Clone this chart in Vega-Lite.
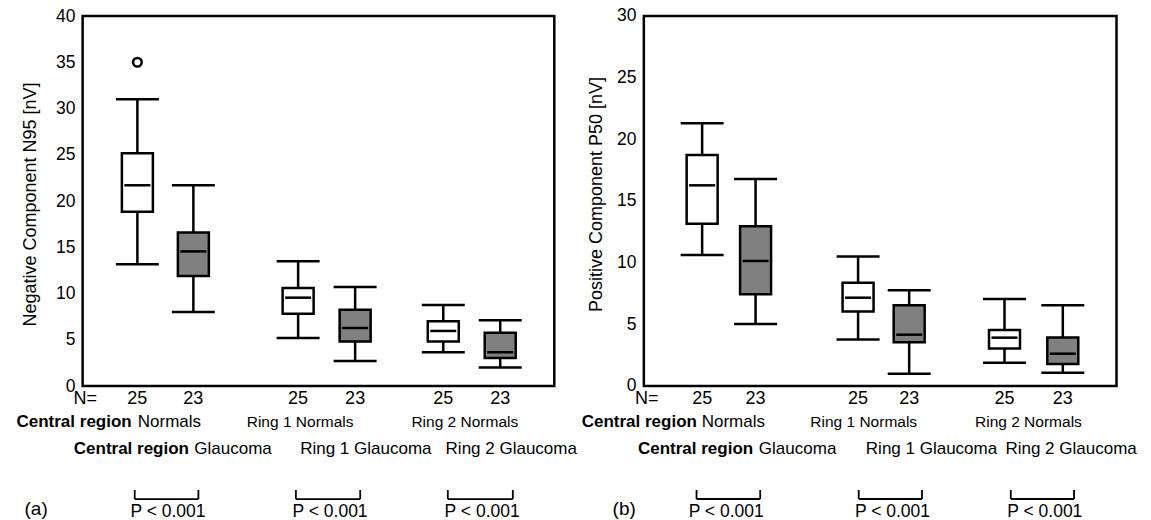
{
  "$schema": "https://vega.github.io/schema/vega-lite/v6.json",
  "padding": 0,
  "bounds": "flush",
  "spacing": 0,
  "config": {
    "view": {"stroke": null},
    "font": "Liberation Sans",
    "text": {"color": "black"}
  },
  "datasets": {
    "frameA": [{"x": 1.374, "x2": 9.722, "y": 0, "y2": 40}],
    "frameB": [{"x": 1.128, "x2": 9.479, "y": 0, "y2": 30}],
    "boxA": [
      {"region": "Central region", "group": "Normals", "pos": 2.343, "lo": 13.15, "q1": 18.85, "med": 21.7, "q3": 25.15, "hi": 31.0, "n": 25},
      {"region": "Central region", "group": "Glaucoma", "pos": 3.334, "lo": 8.0, "q1": 11.9, "med": 14.55, "q3": 16.6, "hi": 21.7, "n": 23},
      {"region": "Ring 1", "group": "Normals", "pos": 5.188, "lo": 5.2, "q1": 7.8, "med": 9.55, "q3": 10.6, "hi": 13.5, "n": 25},
      {"region": "Ring 1", "group": "Glaucoma", "pos": 6.197, "lo": 2.7, "q1": 4.8, "med": 6.27, "q3": 8.25, "hi": 10.7, "n": 23},
      {"region": "Ring 2", "group": "Normals", "pos": 7.757, "lo": 3.64, "q1": 4.8, "med": 5.95, "q3": 7.0, "hi": 8.75, "n": 25},
      {"region": "Ring 2", "group": "Glaucoma", "pos": 8.765, "lo": 2.0, "q1": 3.03, "med": 3.64, "q3": 5.76, "hi": 7.1, "n": 23}
    ],
    "outA": [{"pos": 2.343, "v": 35}],
    "boxB": [
      {"region": "Central region", "group": "Normals", "pos": 2.158, "lo": 10.62, "q1": 13.16, "med": 16.27, "q3": 18.73, "hi": 21.3, "n": 25},
      {"region": "Central region", "group": "Glaucoma", "pos": 3.102, "lo": 5.03, "q1": 7.43, "med": 10.14, "q3": 12.95, "hi": 16.78, "n": 23},
      {"region": "Ring 1", "group": "Normals", "pos": 4.913, "lo": 3.78, "q1": 6.05, "med": 7.16, "q3": 8.38, "hi": 10.49, "n": 25},
      {"region": "Ring 1", "group": "Glaucoma", "pos": 5.816, "lo": 1.0, "q1": 3.54, "med": 4.16, "q3": 6.54, "hi": 7.76, "n": 23},
      {"region": "Ring 2", "group": "Normals", "pos": 7.5, "lo": 1.89, "q1": 3.05, "med": 3.92, "q3": 4.54, "hi": 7.05, "n": 25},
      {"region": "Ring 2", "group": "Glaucoma", "pos": 8.53, "lo": 1.08, "q1": 1.78, "med": 2.62, "q3": 3.94, "hi": 6.54, "n": 23}
    ],
    "textA": [
      {"role": "bold", "text": "Central region", "x": 0.203, "y": -3.86},
      {"role": "plain", "text": "Normals", "x": 2.35, "y": -3.86},
      {"role": "small", "text": "Ring 1 Normals", "x": 4.278, "y": -3.86},
      {"role": "small", "text": "Ring 2 Normals", "x": 7.193, "y": -3.86},
      {"role": "bold", "text": "Central region", "x": 1.217, "y": -6.81},
      {"role": "plain", "text": "Glaucoma", "x": 3.35, "y": -6.81},
      {"role": "plain", "text": "Ring 1 Glaucoma", "x": 5.224, "y": -6.81},
      {"role": "plain", "text": "Ring 2 Glaucoma", "x": 7.798, "y": -6.81},
      {"role": "n", "text": "N=", "x": 1.421, "y": -1.405},
      {"role": "p", "text": "P < 0.001", "x": 2.885, "y": -13.62},
      {"role": "p", "text": "P < 0.001", "x": 5.753, "y": -13.62},
      {"role": "p", "text": "P < 0.001", "x": 8.445, "y": -13.62},
      {"role": "tag", "text": "(a)", "x": 0.551, "y": -13.3}
    ],
    "textB": [
      {"role": "bold", "text": "Central region", "x": 0.03, "y": -2.895},
      {"role": "plain", "text": "Normals", "x": 2.15, "y": -2.895},
      {"role": "small", "text": "Ring 1 Normals", "x": 4.069, "y": -2.895},
      {"role": "small", "text": "Ring 2 Normals", "x": 6.979, "y": -2.895},
      {"role": "bold", "text": "Central region", "x": 1.024, "y": -5.108},
      {"role": "plain", "text": "Glaucoma", "x": 3.16, "y": -5.108},
      {"role": "plain", "text": "Ring 1 Glaucoma", "x": 5.05, "y": -5.108},
      {"role": "plain", "text": "Ring 2 Glaucoma", "x": 7.516, "y": -5.108},
      {"role": "n", "text": "N=", "x": 1.181, "y": -1.054},
      {"role": "p", "text": "P < 0.001", "x": 2.583, "y": -10.216},
      {"role": "p", "text": "P < 0.001", "x": 5.521, "y": -10.216},
      {"role": "p", "text": "P < 0.001", "x": 8.212, "y": -10.216},
      {"role": "tag", "text": "(b)", "x": 0.781, "y": -9.973}
    ],
    "brA": [
      {"x": 2.296, "x2": 3.423, "top": -11.24, "bot": -12.22},
      {"x": 5.148, "x2": 6.287, "top": -11.24, "bot": -12.22},
      {"x": 7.837, "x2": 8.988, "top": -11.24, "bot": -12.22}
    ],
    "brB": [
      {"x": 2.059, "x2": 3.184, "top": -8.433, "bot": -9.162},
      {"x": 4.924, "x2": 6.042, "top": -8.433, "bot": -9.162},
      {"x": 7.611, "x2": 8.729, "top": -8.433, "bot": -9.162}
    ]
  },
  "hconcat": [
    {
      "width": 575,
      "height": 520,
      "layer": [
        {
          "data": {"name": "frameA"},
          "mark": {"type": "rect", "filled": false, "stroke": "black", "strokeWidth": 2.5},
          "encoding": {
            "x": {"field": "x", "type": "quantitative", "scale": {"domain": [0, 10], "nice": false, "zero": false}, "axis": null},
            "x2": {"field": "x2"},
            "y": {"field": "y", "type": "quantitative", "scale": {"domain": [-14.486, 41.73], "nice": false, "zero": false},
              "axis": {"title": "Negative Component N95 [nV]", "values": [0, 5, 10, 15, 20, 25, 30, 35, 40], "offset": -79, "domain": false, "ticks": false, "grid": false, "labelPadding": 4, "labelFontSize": 17.5, "labelColor": "black", "labelFlush": false, "labelOverlap": false, "titleFontSize": 18, "titleFontWeight": "normal", "titleColor": "black", "titleX": -49, "titleY": 204, "titleAngle": 270, "titleAlign": "center", "titleBaseline": "middle"}},
            "y2": {"field": "y2"}
          }
        },
        {
          "data": {"name": "boxA"},
          "mark": {"type": "rule", "color": "black", "strokeWidth": 2.5},
          "encoding": {
            "x": {"field": "pos", "type": "quantitative", "scale": {"domain": [0, 10]}, "axis": null},
            "y": {"field": "lo", "type": "quantitative", "scale": {"domain": [-14.486, 41.73]}},
            "y2": {"field": "hi"}
          }
        },
        {
          "data": {"name": "boxA"},
          "mark": {"type": "bar", "size": 31, "stroke": "black", "strokeWidth": 2.5},
          "encoding": {
            "x": {"field": "pos", "type": "quantitative", "scale": {"domain": [0, 10]}, "axis": null},
            "y": {"field": "q1", "type": "quantitative", "scale": {"domain": [-14.486, 41.73]}},
            "y2": {"field": "q3"},
            "fill": {"field": "group", "type": "nominal", "scale": {"domain": ["Normals", "Glaucoma"], "range": ["#ffffff", "#808080"]}, "legend": null}
          }
        },
        {
          "data": {"name": "boxA"},
          "mark": {"type": "tick", "orient": "horizontal", "size": 26, "thickness": 2.5, "color": "black", "opacity": 1},
          "encoding": {
            "x": {"field": "pos", "type": "quantitative", "scale": {"domain": [0, 10]}, "axis": null},
            "y": {"field": "med", "type": "quantitative", "scale": {"domain": [-14.486, 41.73]}}
          }
        },
        {
          "data": {"name": "boxA"},
          "mark": {"type": "tick", "orient": "horizontal", "size": 43, "thickness": 2.5, "color": "black", "opacity": 1},
          "encoding": {
            "x": {"field": "pos", "type": "quantitative", "scale": {"domain": [0, 10]}, "axis": null},
            "y": {"field": "hi", "type": "quantitative", "scale": {"domain": [-14.486, 41.73]}}
          }
        },
        {
          "data": {"name": "boxA"},
          "mark": {"type": "tick", "orient": "horizontal", "size": 43, "thickness": 2.5, "color": "black", "opacity": 1},
          "encoding": {
            "x": {"field": "pos", "type": "quantitative", "scale": {"domain": [0, 10]}, "axis": null},
            "y": {"field": "lo", "type": "quantitative", "scale": {"domain": [-14.486, 41.73]}}
          }
        },
        {
          "data": {"name": "outA"},
          "mark": {"type": "point", "filled": false, "stroke": "black", "strokeWidth": 2.5, "size": 75, "opacity": 1},
          "encoding": {
            "x": {"field": "pos", "type": "quantitative", "scale": {"domain": [0, 10]}, "axis": null},
            "y": {"field": "v", "type": "quantitative", "scale": {"domain": [-14.486, 41.73]}}
          }
        },
        {
          "data": {"name": "boxA"},
          "mark": {"type": "text", "fontSize": 18, "align": "center", "baseline": "middle"},
          "encoding": {
            "x": {"field": "pos", "type": "quantitative", "scale": {"domain": [0, 10]}, "axis": null},
            "y": {"datum": -1.405, "type": "quantitative", "scale": {"domain": [-14.486, 41.73]}},
            "text": {"field": "n", "type": "quantitative"}
          }
        },
        {
          "data": {"name": "textA"},
          "transform": [{"filter": "datum.role == 'bold'"}],
          "mark": {"type": "text", "fontSize": 17, "fontWeight": "bold", "align": "left", "baseline": "middle"},
          "encoding": {
            "x": {"field": "x", "type": "quantitative", "scale": {"domain": [0, 10]}, "axis": null},
            "y": {"field": "y", "type": "quantitative", "scale": {"domain": [-14.486, 41.73]}},
            "text": {"field": "text"}
          }
        },
        {
          "data": {"name": "textA"},
          "transform": [{"filter": "datum.role == 'plain'"}],
          "mark": {"type": "text", "fontSize": 17, "align": "left", "baseline": "middle"},
          "encoding": {
            "x": {"field": "x", "type": "quantitative", "scale": {"domain": [0, 10]}, "axis": null},
            "y": {"field": "y", "type": "quantitative", "scale": {"domain": [-14.486, 41.73]}},
            "text": {"field": "text"}
          }
        },
        {
          "data": {"name": "textA"},
          "transform": [{"filter": "datum.role == 'small'"}],
          "mark": {"type": "text", "fontSize": 15.5, "align": "left", "baseline": "middle"},
          "encoding": {
            "x": {"field": "x", "type": "quantitative", "scale": {"domain": [0, 10]}, "axis": null},
            "y": {"field": "y", "type": "quantitative", "scale": {"domain": [-14.486, 41.73]}},
            "text": {"field": "text"}
          }
        },
        {
          "data": {"name": "textA"},
          "transform": [{"filter": "datum.role == 'n'"}],
          "mark": {"type": "text", "fontSize": 18, "align": "center", "baseline": "middle"},
          "encoding": {
            "x": {"field": "x", "type": "quantitative", "scale": {"domain": [0, 10]}, "axis": null},
            "y": {"field": "y", "type": "quantitative", "scale": {"domain": [-14.486, 41.73]}},
            "text": {"field": "text"}
          }
        },
        {
          "data": {"name": "textA"},
          "transform": [{"filter": "datum.role == 'p'"}],
          "mark": {"type": "text", "fontSize": 17.5, "align": "center", "baseline": "middle"},
          "encoding": {
            "x": {"field": "x", "type": "quantitative", "scale": {"domain": [0, 10]}, "axis": null},
            "y": {"field": "y", "type": "quantitative", "scale": {"domain": [-14.486, 41.73]}},
            "text": {"field": "text"}
          }
        },
        {
          "data": {"name": "textA"},
          "transform": [{"filter": "datum.role == 'tag'"}],
          "mark": {"type": "text", "fontSize": 19, "align": "center", "baseline": "middle"},
          "encoding": {
            "x": {"field": "x", "type": "quantitative", "scale": {"domain": [0, 10]}, "axis": null},
            "y": {"field": "y", "type": "quantitative", "scale": {"domain": [-14.486, 41.73]}},
            "text": {"field": "text"}
          }
        },
        {
          "data": {"name": "brA"},
          "mark": {"type": "rule", "color": "black", "strokeWidth": 1.8},
          "encoding": {
            "x": {"field": "x", "type": "quantitative", "scale": {"domain": [0, 10]}, "axis": null},
            "x2": {"field": "x2"},
            "y": {"field": "bot", "type": "quantitative", "scale": {"domain": [-14.486, 41.73]}}
          }
        },
        {
          "data": {"name": "brA"},
          "mark": {"type": "rule", "color": "black", "strokeWidth": 1.8},
          "encoding": {
            "x": {"field": "x", "type": "quantitative", "scale": {"domain": [0, 10]}, "axis": null},
            "y": {"field": "top", "type": "quantitative", "scale": {"domain": [-14.486, 41.73]}},
            "y2": {"field": "bot"}
          }
        },
        {
          "data": {"name": "brA"},
          "mark": {"type": "rule", "color": "black", "strokeWidth": 1.8},
          "encoding": {
            "x": {"field": "x2", "type": "quantitative", "scale": {"domain": [0, 10]}, "axis": null},
            "y": {"field": "top", "type": "quantitative", "scale": {"domain": [-14.486, 41.73]}},
            "y2": {"field": "bot"}
          }
        }
      ]
    },
    {
      "width": 576,
      "height": 520,
      "layer": [
        {
          "data": {"name": "frameB"},
          "mark": {"type": "rect", "filled": false, "stroke": "black", "strokeWidth": 2.5},
          "encoding": {
            "x": {"field": "x", "type": "quantitative", "scale": {"domain": [0, 10], "nice": false, "zero": false}, "axis": null},
            "x2": {"field": "x2"},
            "y": {"field": "y", "type": "quantitative", "scale": {"domain": [-10.865, 31.297], "nice": false, "zero": false},
              "axis": {"title": "Positive Component P50 [nV]", "values": [0, 5, 10, 15, 20, 25, 30], "offset": -65, "domain": false, "ticks": false, "grid": false, "labelPadding": 4, "labelFontSize": 17.5, "labelColor": "black", "labelFlush": false, "labelOverlap": false, "titleFontSize": 18, "titleFontWeight": "normal", "titleColor": "black", "titleX": -44, "titleY": 194, "titleAngle": 270, "titleAlign": "center", "titleBaseline": "middle"}},
            "y2": {"field": "y2"}
          }
        },
        {
          "data": {"name": "boxB"},
          "mark": {"type": "rule", "color": "black", "strokeWidth": 2.5},
          "encoding": {
            "x": {"field": "pos", "type": "quantitative", "scale": {"domain": [0, 10]}, "axis": null},
            "y": {"field": "lo", "type": "quantitative", "scale": {"domain": [-10.865, 31.297]}},
            "y2": {"field": "hi"}
          }
        },
        {
          "data": {"name": "boxB"},
          "mark": {"type": "bar", "size": 31, "stroke": "black", "strokeWidth": 2.5},
          "encoding": {
            "x": {"field": "pos", "type": "quantitative", "scale": {"domain": [0, 10]}, "axis": null},
            "y": {"field": "q1", "type": "quantitative", "scale": {"domain": [-10.865, 31.297]}},
            "y2": {"field": "q3"},
            "fill": {"field": "group", "type": "nominal", "scale": {"domain": ["Normals", "Glaucoma"], "range": ["#ffffff", "#808080"]}, "legend": null}
          }
        },
        {
          "data": {"name": "boxB"},
          "mark": {"type": "tick", "orient": "horizontal", "size": 26, "thickness": 2.5, "color": "black", "opacity": 1},
          "encoding": {
            "x": {"field": "pos", "type": "quantitative", "scale": {"domain": [0, 10]}, "axis": null},
            "y": {"field": "med", "type": "quantitative", "scale": {"domain": [-10.865, 31.297]}}
          }
        },
        {
          "data": {"name": "boxB"},
          "mark": {"type": "tick", "orient": "horizontal", "size": 43, "thickness": 2.5, "color": "black", "opacity": 1},
          "encoding": {
            "x": {"field": "pos", "type": "quantitative", "scale": {"domain": [0, 10]}, "axis": null},
            "y": {"field": "hi", "type": "quantitative", "scale": {"domain": [-10.865, 31.297]}}
          }
        },
        {
          "data": {"name": "boxB"},
          "mark": {"type": "tick", "orient": "horizontal", "size": 43, "thickness": 2.5, "color": "black", "opacity": 1},
          "encoding": {
            "x": {"field": "pos", "type": "quantitative", "scale": {"domain": [0, 10]}, "axis": null},
            "y": {"field": "lo", "type": "quantitative", "scale": {"domain": [-10.865, 31.297]}}
          }
        },
        {
          "data": {"name": "boxB"},
          "mark": {"type": "text", "fontSize": 18, "align": "center", "baseline": "middle"},
          "encoding": {
            "x": {"field": "pos", "type": "quantitative", "scale": {"domain": [0, 10]}, "axis": null},
            "y": {"datum": -1.054, "type": "quantitative", "scale": {"domain": [-10.865, 31.297]}},
            "text": {"field": "n", "type": "quantitative"}
          }
        },
        {
          "data": {"name": "textB"},
          "transform": [{"filter": "datum.role == 'bold'"}],
          "mark": {"type": "text", "fontSize": 17, "fontWeight": "bold", "align": "left", "baseline": "middle"},
          "encoding": {
            "x": {"field": "x", "type": "quantitative", "scale": {"domain": [0, 10]}, "axis": null},
            "y": {"field": "y", "type": "quantitative", "scale": {"domain": [-10.865, 31.297]}},
            "text": {"field": "text"}
          }
        },
        {
          "data": {"name": "textB"},
          "transform": [{"filter": "datum.role == 'plain'"}],
          "mark": {"type": "text", "fontSize": 17, "align": "left", "baseline": "middle"},
          "encoding": {
            "x": {"field": "x", "type": "quantitative", "scale": {"domain": [0, 10]}, "axis": null},
            "y": {"field": "y", "type": "quantitative", "scale": {"domain": [-10.865, 31.297]}},
            "text": {"field": "text"}
          }
        },
        {
          "data": {"name": "textB"},
          "transform": [{"filter": "datum.role == 'small'"}],
          "mark": {"type": "text", "fontSize": 15.5, "align": "left", "baseline": "middle"},
          "encoding": {
            "x": {"field": "x", "type": "quantitative", "scale": {"domain": [0, 10]}, "axis": null},
            "y": {"field": "y", "type": "quantitative", "scale": {"domain": [-10.865, 31.297]}},
            "text": {"field": "text"}
          }
        },
        {
          "data": {"name": "textB"},
          "transform": [{"filter": "datum.role == 'n'"}],
          "mark": {"type": "text", "fontSize": 18, "align": "center", "baseline": "middle"},
          "encoding": {
            "x": {"field": "x", "type": "quantitative", "scale": {"domain": [0, 10]}, "axis": null},
            "y": {"field": "y", "type": "quantitative", "scale": {"domain": [-10.865, 31.297]}},
            "text": {"field": "text"}
          }
        },
        {
          "data": {"name": "textB"},
          "transform": [{"filter": "datum.role == 'p'"}],
          "mark": {"type": "text", "fontSize": 17.5, "align": "center", "baseline": "middle"},
          "encoding": {
            "x": {"field": "x", "type": "quantitative", "scale": {"domain": [0, 10]}, "axis": null},
            "y": {"field": "y", "type": "quantitative", "scale": {"domain": [-10.865, 31.297]}},
            "text": {"field": "text"}
          }
        },
        {
          "data": {"name": "textB"},
          "transform": [{"filter": "datum.role == 'tag'"}],
          "mark": {"type": "text", "fontSize": 19, "align": "center", "baseline": "middle"},
          "encoding": {
            "x": {"field": "x", "type": "quantitative", "scale": {"domain": [0, 10]}, "axis": null},
            "y": {"field": "y", "type": "quantitative", "scale": {"domain": [-10.865, 31.297]}},
            "text": {"field": "text"}
          }
        },
        {
          "data": {"name": "brB"},
          "mark": {"type": "rule", "color": "black", "strokeWidth": 1.8},
          "encoding": {
            "x": {"field": "x", "type": "quantitative", "scale": {"domain": [0, 10]}, "axis": null},
            "x2": {"field": "x2"},
            "y": {"field": "bot", "type": "quantitative", "scale": {"domain": [-10.865, 31.297]}}
          }
        },
        {
          "data": {"name": "brB"},
          "mark": {"type": "rule", "color": "black", "strokeWidth": 1.8},
          "encoding": {
            "x": {"field": "x", "type": "quantitative", "scale": {"domain": [0, 10]}, "axis": null},
            "y": {"field": "top", "type": "quantitative", "scale": {"domain": [-10.865, 31.297]}},
            "y2": {"field": "bot"}
          }
        },
        {
          "data": {"name": "brB"},
          "mark": {"type": "rule", "color": "black", "strokeWidth": 1.8},
          "encoding": {
            "x": {"field": "x2", "type": "quantitative", "scale": {"domain": [0, 10]}, "axis": null},
            "y": {"field": "top", "type": "quantitative", "scale": {"domain": [-10.865, 31.297]}},
            "y2": {"field": "bot"}
          }
        }
      ]
    }
  ]
}
